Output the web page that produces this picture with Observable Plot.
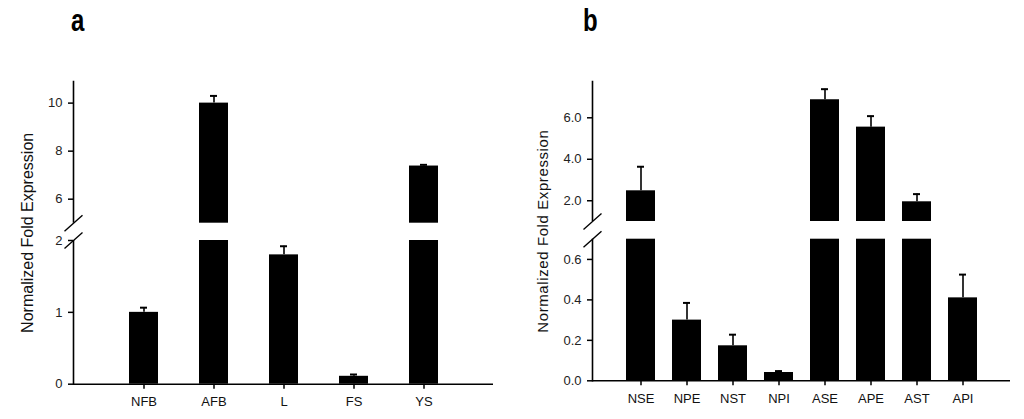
<!DOCTYPE html>
<html>
<head>
<meta charset="utf-8">
<script src="https://cdn.jsdelivr.net/npm/d3@7"></script>
<script src="https://cdn.jsdelivr.net/npm/@observablehq/plot@0.6"></script>
<style>
  html, body { margin: 0; padding: 0; background: #fff; }
  #wrap { position: relative; width: 1024px; height: 419px; overflow: hidden; font-family: "Liberation Sans", Arial, sans-serif; }
  .panel { position: absolute; top: 0; }
  .ttl { position: absolute; font-weight: bold; font-size: 24px; line-height: 24px; color: #000;
         transform: scaleY(1.3); transform-origin: 0 20.3px; }
  #wrap svg g[aria-label$="tick label"], #wrap svg g[aria-label$="tick label"] text { font-size: 13px !important; }
</style>
</head>
<body>
<div id="wrap">
  <div id="pa" class="panel" style="left:0px"></div>
  <div id="pb" class="panel" style="left:512px"></div>
  <div class="ttl" style="left:71px; top:10.7px">a</div>
  <div class="ttl" style="left:583px; top:10.7px">b</div>
</div>
<script>
// ---- Panel a data ----
const catsA  = ["NFB", "AFB", "L", "FS", "YS"];
const meanA  = [1.0, 10.0, 1.8, 0.11, 7.38];
const errA   = [0.065, 0.3, 0.12, 0.025, 0.05];
const ticksA = [0, 1, 2, 6, 8, 10];
const breakA = [2, 5];      // top of lower segment, bottom of upper segment
const topA   = 10.9;

// ---- Panel b data ----
const catsB  = ["NSE", "NPE", "NST", "NPI", "ASE", "APE", "AST", "API"];
const meanB  = [2.48, 0.30, 0.173, 0.041, 6.87, 5.55, 1.95, 0.41];
const errB   = [1.16, 0.085, 0.055, 0.007, 0.51, 0.53, 0.37, 0.115];
const ticksB = [0, 0.2, 0.4, 0.6, 2, 4, 6];
const breakB = [0.7, 1];
const topB   = 7.75;

const yLabel = "Normalized Fold Expression";

const slash = { draw(ctx) { ctx.moveTo(-9, 8); ctx.lineTo(9, -8); } };

function panel(o) {
  const rows = o.cats.map((c, i) => ({cat: c, v: o.mean[i], e: o.err[i]}));
  const segs = [];
  rows.forEach(r => {
    segs.push({cat: r.cat, y1: 0, y2: Math.min(r.v, o.brk[0])});
    if (r.v > o.brk[1]) segs.push({cat: r.cat, y1: o.brk[1], y2: r.v});
  });
  const svg = Plot.plot({
    width: 512, height: 419,
    marginTop: 81, marginBottom: o.marginBottom, marginLeft: o.marginLeft, marginRight: o.marginRight,
    style: {fontFamily: "'Liberation Sans', Arial, sans-serif", fontSize: "13px", color: "#000", background: "transparent", overflow: "visible"},
    x: {domain: o.cats, paddingInner: o.pi, paddingOuter: o.po, label: null},
    y: {type: "linear", domain: [0, o.brk[0], o.brk[1], o.top], range: o.yRange, label: null},
    marks: [
      Plot.frame({anchor: "left", stroke: "#000", strokeWidth: 1.6}),
      Plot.rect([o.brk], {y1: d => d[0], y2: d => d[1], fill: "#fff", insetLeft: -4}),
      Plot.barY(segs, {x: "cat", y1: "y1", y2: "y2", fill: "#000"}),
      Plot.ruleX(rows, {x: "cat", y1: "v", y2: d => d.v + d.e, stroke: "#000", strokeWidth: 1.6}),
      Plot.tickY(rows, {x: "cat", y: d => d.v + d.e, stroke: "#000", strokeWidth: 2, insetLeft: 11, insetRight: 11}),
      Plot.ruleY([0], {stroke: "#000", strokeWidth: 1.6}),
      Plot.dot(o.brk, {y: d => d, frameAnchor: "left", symbol: slash, stroke: "#000", strokeWidth: 1.4, fill: "none"}),
      Plot.axisY({ticks: o.ticks, tickSize: 5, tickPadding: 6, tickFormat: o.fmt, strokeWidth: 1.5, fill: "#222", fontSize: 13,
                  label: yLabel, labelArrow: "none", labelAnchor: "center", labelOffset: o.labelOffset}),
      Plot.axisX({tickSize: 5, tickPadding: 8, strokeWidth: 1.5, fill: "#111", fontSize: 13, label: null})
    ]
  });
  svg.querySelectorAll('[aria-label="y-axis label"] text').forEach(t => {
    t.textContent = t.textContent.replace(/[\u2190-\u2193]/g, "").trim();
    t.style.fontSize = o.labelSize;
    t.style.letterSpacing = o.labelSpacing;
    t.style.fill = "#111";
  });
  return svg;
}

document.getElementById("pa").append(panel({
  cats: catsA, mean: meanA, err: errA, ticks: ticksA, brk: breakA, top: topA,
  marginLeft: 73, marginRight: 19, marginBottom: 35.3,
  yRange: [383.7, 240, 222.7, 81], pi: 0.587, po: 0.78,
  fmt: d3.format("d"), labelOffset: 52, labelSize: "16px", labelSpacing: "0px"
}));

document.getElementById("pb").append(panel({
  cats: catsB, mean: meanB, err: errB, ticks: ticksB, brk: breakB, top: topB,
  marginLeft: 80, marginRight: 14, marginBottom: 38.7,
  yRange: [380.3, 238.7, 221, 81], pi: 0.376, po: 0.683,
  fmt: d3.format(".1f"), labelOffset: 55, labelSize: "15px", labelSpacing: "0.6px"
}));
</script>
</body>
</html>
